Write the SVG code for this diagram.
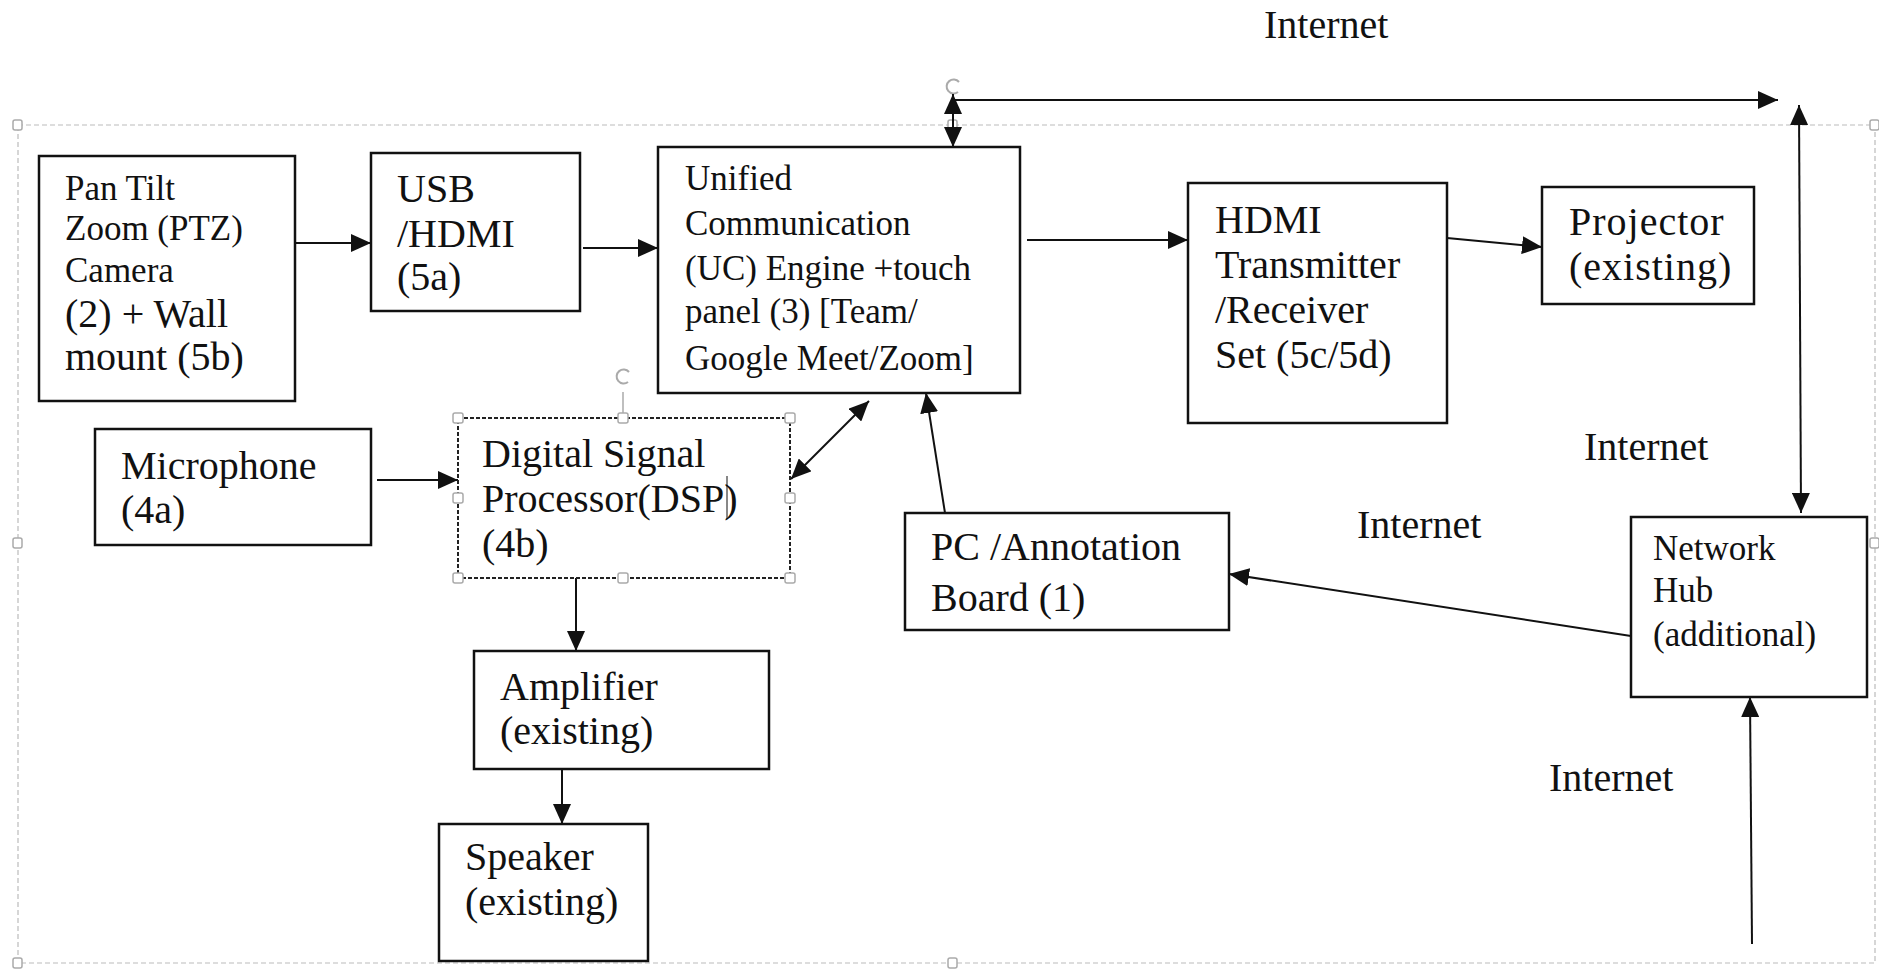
<svg xmlns="http://www.w3.org/2000/svg" width="1879" height="971" viewBox="0 0 1879 971">
<style>
text{font-family:"Liberation Serif","Times New Roman",serif;fill:#111;}
.t40{font-size:40px;}
.t35{font-size:35px;}
.box{fill:#fff;stroke:#111;stroke-width:2.5;}
.dbox{fill:#fff;stroke:#222;stroke-width:2;stroke-dasharray:4 2;}
.con{fill:none;stroke:#111;stroke-width:2;}
.frame{fill:none;stroke:#bbb;stroke-width:1.2;stroke-dasharray:5 3;}
.hdl{fill:#fff;stroke:#aaa;stroke-width:1.5;}
.rot{fill:none;stroke:#aaa;stroke-width:2;}
</style>
<defs>
<marker id="ah" markerUnits="userSpaceOnUse" markerWidth="21" markerHeight="18" refX="20" refY="9" orient="auto-start-reverse">
<path d="M0,0 L20,9 L0,18 z" fill="#111"/>
</marker>
</defs>
<rect width="1879" height="971" fill="#fff"/>
<g id="selection-frame">
<rect class="frame" x="18" y="125" width="1857" height="838"/>
<rect class="hdl" x="13" y="120" width="9" height="10" rx="2"/>
<rect class="hdl" x="948" y="120" width="9" height="10" rx="2"/>
<rect class="hdl" x="1870" y="120" width="9" height="10" rx="2"/>
<rect class="hdl" x="13" y="538" width="9" height="10" rx="2"/>
<rect class="hdl" x="1870" y="538" width="9" height="10" rx="2"/>
<rect class="hdl" x="13" y="958" width="9" height="10" rx="2"/>
<rect class="hdl" x="948" y="958" width="9" height="10" rx="2"/>
<path class="rot" d="M959,82 A7,7 0 1 0 958,92"/>
</g>
<g id="connectors">
<line class="con" x1="295" y1="243" x2="371" y2="243" marker-end="url(#ah)"/>
<line class="con" x1="583" y1="248" x2="658" y2="248" marker-end="url(#ah)"/>
<line class="con" x1="1027" y1="240" x2="1188" y2="240" marker-end="url(#ah)"/>
<line class="con" x1="1447" y1="238" x2="1542" y2="247" marker-end="url(#ah)"/>
<line class="con" x1="377" y1="480" x2="458" y2="480" marker-end="url(#ah)"/>
<line class="con" x1="791" y1="479" x2="869" y2="401" marker-start="url(#ah)" marker-end="url(#ah)"/>
<line class="con" x1="576" y1="578" x2="576" y2="651" marker-end="url(#ah)"/>
<line class="con" x1="562" y1="751" x2="562" y2="824" marker-end="url(#ah)"/>
<line class="con" x1="945" y1="513" x2="926" y2="393" marker-end="url(#ah)"/>
<line class="con" x1="1631" y1="636" x2="1229" y2="574" marker-end="url(#ah)"/>
<line class="con" x1="1752" y1="944" x2="1750" y2="697" marker-end="url(#ah)"/>
<line class="con" x1="953" y1="100" x2="1778" y2="100" marker-end="url(#ah)"/>
<line class="con" x1="953" y1="94" x2="953" y2="147" marker-start="url(#ah)" marker-end="url(#ah)"/>
<line class="con" x1="1799" y1="105" x2="1801" y2="513" marker-start="url(#ah)" marker-end="url(#ah)"/>
</g>
<g id="ptz">
<rect class="box" x="39" y="156" width="256" height="245"/>
<text class="t35" x="65" y="200">Pan Tilt</text>
<text class="t35" x="65" y="240">Zoom (PTZ)</text>
<text class="t35" x="65" y="282">Camera</text>
<text class="t40" x="65" y="327">(2) + Wall</text>
<text class="t40" x="65" y="370">mount (5b)</text>
</g>
<g id="usb-hdmi">
<rect class="box" x="371" y="153" width="209" height="158"/>
<text class="t40" x="397" y="202">USB</text>
<text class="t40" x="397" y="247">/HDMI</text>
<text class="t40" x="397" y="290">(5a)</text>
</g>
<g id="uc-engine">
<rect class="box" x="658" y="147" width="362" height="246"/>
<text class="t35" x="685" y="190">Unified</text>
<text class="t35" x="685" y="235">Communication</text>
<text class="t35" x="685" y="280">(UC) Engine +touch</text>
<text class="t35" x="685" y="323">panel (3) [Team/</text>
<text class="t35" x="685" y="370">Google Meet/Zoom]</text>
</g>
<g id="hdmi-txrx">
<rect class="box" x="1188" y="183" width="259" height="240"/>
<text class="t40" x="1215" y="233">HDMI</text>
<text class="t40" x="1215" y="278">Transmitter</text>
<text class="t40" x="1215" y="323">/Receiver</text>
<text class="t40" x="1215" y="368">Set (5c/5d)</text>
</g>
<g id="projector">
<rect class="box" x="1542" y="187" width="212" height="117"/>
<text class="t40" x="1569" y="235" letter-spacing="1">Projector</text>
<text class="t40" x="1569" y="280" letter-spacing="1">(existing)</text>
</g>
<g id="microphone">
<rect class="box" x="95" y="429" width="276" height="116"/>
<text class="t40" x="121" y="479">Microphone</text>
<text class="t40" x="121" y="523">(4a)</text>
</g>
<g id="dsp">
<rect class="dbox" x="458" y="418" width="332" height="160"/>
<text class="t40" x="482" y="467">Digital Signal</text>
<text class="t40" x="482" y="512">Processor(DSP)</text>
<text class="t40" x="482" y="557">(4b)</text>
<line x1="727" y1="476" x2="727" y2="519" stroke="#111" stroke-width="1"/>
<line x1="623" y1="392" x2="623" y2="418" stroke="#aaa" stroke-width="1.5"/>
<path class="rot" d="M629,372 A7,7 0 1 0 628,382"/>
<rect class="hdl" x="453" y="413" width="10" height="10" rx="2"/>
<rect class="hdl" x="618" y="413" width="10" height="10" rx="2"/>
<rect class="hdl" x="785" y="413" width="10" height="10" rx="2"/>
<rect class="hdl" x="453" y="493" width="10" height="10" rx="2"/>
<rect class="hdl" x="785" y="493" width="10" height="10" rx="2"/>
<rect class="hdl" x="453" y="573" width="10" height="10" rx="2"/>
<rect class="hdl" x="618" y="573" width="10" height="10" rx="2"/>
<rect class="hdl" x="785" y="573" width="10" height="10" rx="2"/>
</g>
<g id="amplifier">
<rect class="box" x="474" y="651" width="295" height="118"/>
<text class="t40" x="500" y="700">Amplifier</text>
<text class="t40" x="500" y="744">(existing)</text>
</g>
<g id="speaker">
<rect class="box" x="439" y="824" width="209" height="137"/>
<text class="t40" x="465" y="870">Speaker</text>
<text class="t40" x="465" y="915">(existing)</text>
</g>
<g id="pc-board">
<rect class="box" x="905" y="513" width="324" height="117"/>
<text class="t40" x="931" y="560">PC /Annotation</text>
<text class="t40" x="931" y="611">Board (1)</text>
</g>
<g id="network-hub">
<rect class="box" x="1631" y="517" width="236" height="180"/>
<text class="t35" x="1653" y="560">Network</text>
<text class="t35" x="1653" y="602">Hub</text>
<text class="t35" x="1653" y="646">(additional)</text>
</g>
<g id="labels">
<text class="t40" x="1264" y="38">Internet</text>
<text class="t40" x="1584" y="460">Internet</text>
<text class="t40" x="1357" y="538">Internet</text>
<text class="t40" x="1549" y="791">Internet</text>
</g>
</svg>
